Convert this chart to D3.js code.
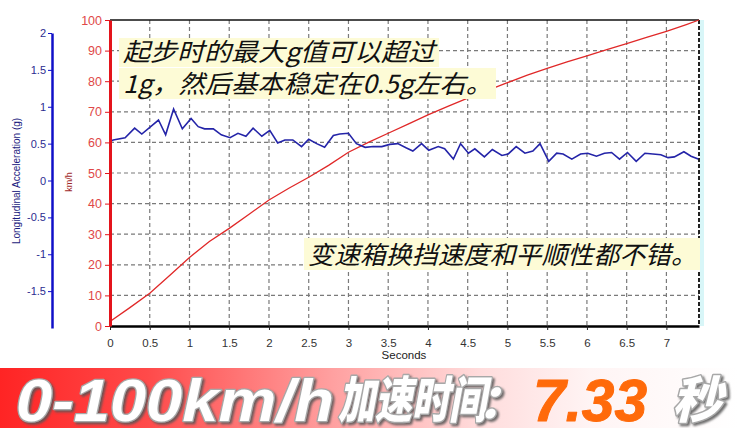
<!DOCTYPE html>
<html><head><meta charset="utf-8">
<script src="https://cdn.jsdelivr.net/npm/d3@7"></script>
<style>html,body{margin:0;padding:0;background:#fff;} svg{display:block;}</style>
</head><body>
<svg id="c" width="738" height="428"></svg>
<script>
// ---- data ----
const speedTime = [0,0.25,0.5,0.75,1,1.25,1.5,1.75,2,2.25,2.5,2.75,3,3.25,3.5,3.75,4,4.25,4.5,4.75,5,5.25,5.5,5.75,6,6.25,6.5,6.75,7,7.25,7.41];
const speedKmh  = [1.5,6.0,10.7,16.5,22.4,27.6,31.9,36.5,41.2,45,48.6,52.5,56.8,60,63,66,69,71.8,74.5,77,79.5,82,84.2,86.3,88.3,90.3,92.3,94.3,96.3,98.5,100];
const accTime = [0,0.04,0.19,0.31,0.40,0.61,0.70,0.80,0.91,1.02,1.11,1.19,1.30,1.40,1.51,1.61,1.71,1.80,1.91,2.01,2.11,2.20,2.30,2.41,2.50,2.60,2.70,2.81,2.89,3.00,3.10,3.21,3.31,3.42,3.52,3.62,3.73,3.81,3.92,4.01,4.13,4.21,4.32,4.41,4.51,4.59,4.71,4.81,4.93,5.01,5.11,5.22,5.32,5.41,5.52,5.62,5.70,5.81,5.92,6.01,6.12,6.22,6.31,6.41,6.51,6.62,6.73,6.83,6.93,7.02,7.10,7.22,7.31,7.40];
const accG = [0.53,0.55,0.58,0.71,0.63,0.82,0.62,0.97,0.70,0.84,0.73,0.70,0.70,0.62,0.58,0.64,0.60,0.71,0.60,0.68,0.51,0.55,0.55,0.46,0.56,0.50,0.45,0.61,0.63,0.64,0.50,0.45,0.46,0.46,0.49,0.50,0.44,0.40,0.50,0.41,0.46,0.43,0.29,0.50,0.37,0.43,0.32,0.42,0.34,0.36,0.46,0.37,0.40,0.50,0.26,0.37,0.36,0.29,0.36,0.37,0.33,0.37,0.38,0.29,0.38,0.26,0.37,0.36,0.35,0.31,0.32,0.39,0.33,0.29];
const xTicks = [0,0.5,1,1.5,2,2.5,3,3.5,4,4.5,5,5.5,6,6.5,7];
const speedTicks = [0,10,20,30,40,50,60,70,80,90,100];
const accTicks = [-1.5,-1,-0.5,0,0.5,1,1.5,2];
const xTitle = "Seconds";
const speedTitle = "km/h";
const accTitle = "Longitudinal Acceleration (g)";
const note1 = ["起步时的最大g值可以超过","1g，然后基本稳定在0.5g左右。"];
const note2 = "变速箱换挡速度和平顺性都不错。";
const bannerParts = ["0-100km/h","加速时间","：","7.33","秒"];

// ---- chart ----
const svg = d3.select('#c');
const x  = d3.scaleLinear().domain([0,7.41]).range([110,699]);
const yS = d3.scaleLinear().domain([0,100]).range([326,20]);
const yA = d3.scaleLinear().domain([-2,2]).range([328,33]);
const axisFont = "'Liberation Sans', Arial, sans-serif";

// grid
const grid = svg.append('g');
grid.selectAll('line.v').data(xTicks.filter(d=>d>0)).join('line')
  .attr('x1',d=>x(d)).attr('x2',d=>x(d)).attr('y1',yS(100)).attr('y2',yS(0))
  .attr('stroke','#7a7a7a').attr('stroke-width',1.2).attr('stroke-dasharray','4,3');
grid.selectAll('line.h').data(speedTicks.filter(d=>d>0&&d<100)).join('line')
  .attr('x1',x(0)).attr('x2',x(7.41)).attr('y1',d=>yS(d)).attr('y2',d=>yS(d))
  .attr('stroke','#7a7a7a').attr('stroke-width',1.2).attr('stroke-dasharray','4,3');

// border top & right
svg.append('line').attr('x1',x(0)).attr('x2',x(7.41)).attr('y1',yS(100)).attr('y2',yS(100)).attr('stroke','#111').attr('stroke-width',1.5);
svg.append('rect').attr('x',x(7.41)+1).attr('y',yS(100)).attr('width',4).attr('height',yS(0)-yS(100)).attr('fill','#d8f6f8');
svg.append('line').attr('x1',x(7.41)).attr('x2',x(7.41)).attr('y1',yS(100)).attr('y2',yS(0)).attr('stroke','#222').attr('stroke-width',2).attr('stroke-dasharray','4,2');

// lines
const accPts = accTime.map((t,i)=>[t,accG[i]]);
const spdPts = speedTime.map((t,i)=>[t,speedKmh[i]]);
svg.append('path').datum(spdPts).attr('fill','none').attr('stroke','#e02828').attr('stroke-width',1.3)
  .attr('d', d3.line().x(d=>x(d[0])).y(d=>yS(d[1])));
svg.append('path').datum(accPts).attr('fill','none').attr('stroke','#2424a8').attr('stroke-width',1.6)
  .attr('d', d3.line().x(d=>x(d[0])).y(d=>yA(d[1])));

// x axis
const gx = svg.append('g').attr('transform','translate(0,326)');
gx.call(d3.axisBottom(x).tickValues(d3.range(0,7.41,0.1)).tickSize(2).tickFormat(''));
gx.call(d3.axisBottom(x).tickValues(xTicks).tickSize(4).tickSizeOuter(0).tickPadding(9).tickFormat(d=>String(d)));
gx.selectAll('path.domain').attr('stroke','#000').attr('stroke-width',2.5);
gx.selectAll('line').attr('stroke','#222');
gx.selectAll('text').attr('fill','#333').style('font-family',axisFont).style('font-size','11.5px');
svg.append('text').attr('x',404).attr('y',359).attr('text-anchor','middle').attr('fill','#222')
  .style('font-family',axisFont).style('font-size','11.5px').text(xTitle);

// speed axis
const gs = svg.append('g').attr('transform','translate(110,0)');
gs.call(d3.axisLeft(yS).tickValues(d3.range(0,101,2)).tickSize(2).tickSizeOuter(0).tickFormat(''));
gs.call(d3.axisLeft(yS).tickValues(speedTicks).tickSize(5).tickSizeOuter(0).tickPadding(3));
gs.selectAll('path.domain').attr('stroke','#e4141c').attr('stroke-width',3);
gs.selectAll('line').attr('stroke','#e4141c');
gs.selectAll('text').attr('fill','#e04848').style('font-family',axisFont).style('font-size','12.5px');
svg.append('text').attr('transform','translate(72,182) rotate(-90)').attr('text-anchor','middle')
  .attr('fill','#a02828').style('font-family',axisFont).style('font-size','9px').text(speedTitle);

// accel axis
const ga = svg.append('g').attr('transform','translate(52,0)');
ga.call(d3.axisLeft(yA).tickValues(d3.range(-2,2.01,0.1)).tickSize(-2).tickSizeOuter(0).tickFormat(''));
ga.call(d3.axisLeft(yA).tickValues(accTicks).tickSize(4).tickSizeOuter(0).tickPadding(2).tickFormat(d=>String(d)));
ga.selectAll('path.domain').attr('stroke','#1010c8').attr('stroke-width',2.5);
ga.selectAll('line').attr('stroke','#1010c8');
ga.selectAll('text').attr('fill','#2c2c90').style('font-family',axisFont).style('font-size','11px');
svg.append('text').attr('transform','translate(20,181) rotate(-90)').attr('text-anchor','middle')
  .attr('fill','#1c1c80').style('font-family',axisFont).style('font-size','10px').text(accTitle);

// annotations
const cjk = "'Noto Sans CJK SC', sans-serif";
function note(txt, x0, base, len, bx0, bw, by0, bh){
  svg.append('rect').attr('x',bx0).attr('y',by0).attr('width',bw).attr('height',bh).attr('fill','#fdfbd6');
  svg.append('text').attr('x',x0).attr('y',base).attr('textLength',len).attr('lengthAdjust','spacingAndGlyphs')
    .attr('fill','#111').style('font-family',cjk).style('font-size','25px').style('font-style','italic').text(txt);
}
note(note1[0],123,61,312,119,320,38,29);
note(note1[1],123,93,369,119,377,68,31);
note(note2,308,264,389,304,396,238,32);

// banner
const defs = svg.append('defs');
const grad = defs.append('linearGradient').attr('id','bg').attr('x1','0').attr('x2','1').attr('y1','0').attr('y2','0');
[[0,'#ff2424'],[0.2,'#ff4a4a'],[0.45,'#ffa0a0'],[0.65,'#ffdcdc'],[0.8,'#fff4f4'],[1,'#ffffff']]
  .forEach(s=>grad.append('stop').attr('offset',s[0]).attr('stop-color',s[1]));
const f = defs.append('filter').attr('id','sh').attr('x','-20%').attr('y','-20%').attr('width','150%').attr('height','150%');
f.append('feDropShadow').attr('dx',2).attr('dy',2).attr('stdDeviation',1.2).attr('flood-color','#555').attr('flood-opacity',0.85);
svg.append('rect').attr('x',0).attr('y',368).attr('width',738).attr('height',60).attr('fill','url(#bg)');
const lat = "'Liberation Sans', Arial, sans-serif";
function bt(txt, x0, base, len, size, fam, fill, stroke, sw, shadow){
  const t = svg.append('text').attr('x',x0).attr('y',base)
    .attr('fill',fill).attr('stroke',stroke).attr('stroke-width',sw).attr('stroke-linejoin','round')
    .style('paint-order','stroke')
    .style('font-family',fam).style('font-size',size+'px').style('font-weight',900).style('font-style','italic').text(txt);
  if(len) t.attr('textLength',len).attr('lengthAdjust','spacingAndGlyphs');
  if(shadow) t.attr('filter','url(#sh)');
}
bt(bannerParts[0],16,421,318,60,lat,'#ffffff','#a8a8a8',2.5,true);
bt(bannerParts[1],338,418,148,50,cjk,'#ffffff','#a8a8a8',3,true);
bt(bannerParts[2],478,418,null,46,cjk,'#ffffff','#a8a8a8',3,true);
bt(bannerParts[3],533,421,114,60,lat,'#ff6a0a','#ff6a0a',1,false);
bt(bannerParts[4],672,418,null,50,cjk,'#ffffff','#a8a8a8',3,true);
</script>
</body></html>
